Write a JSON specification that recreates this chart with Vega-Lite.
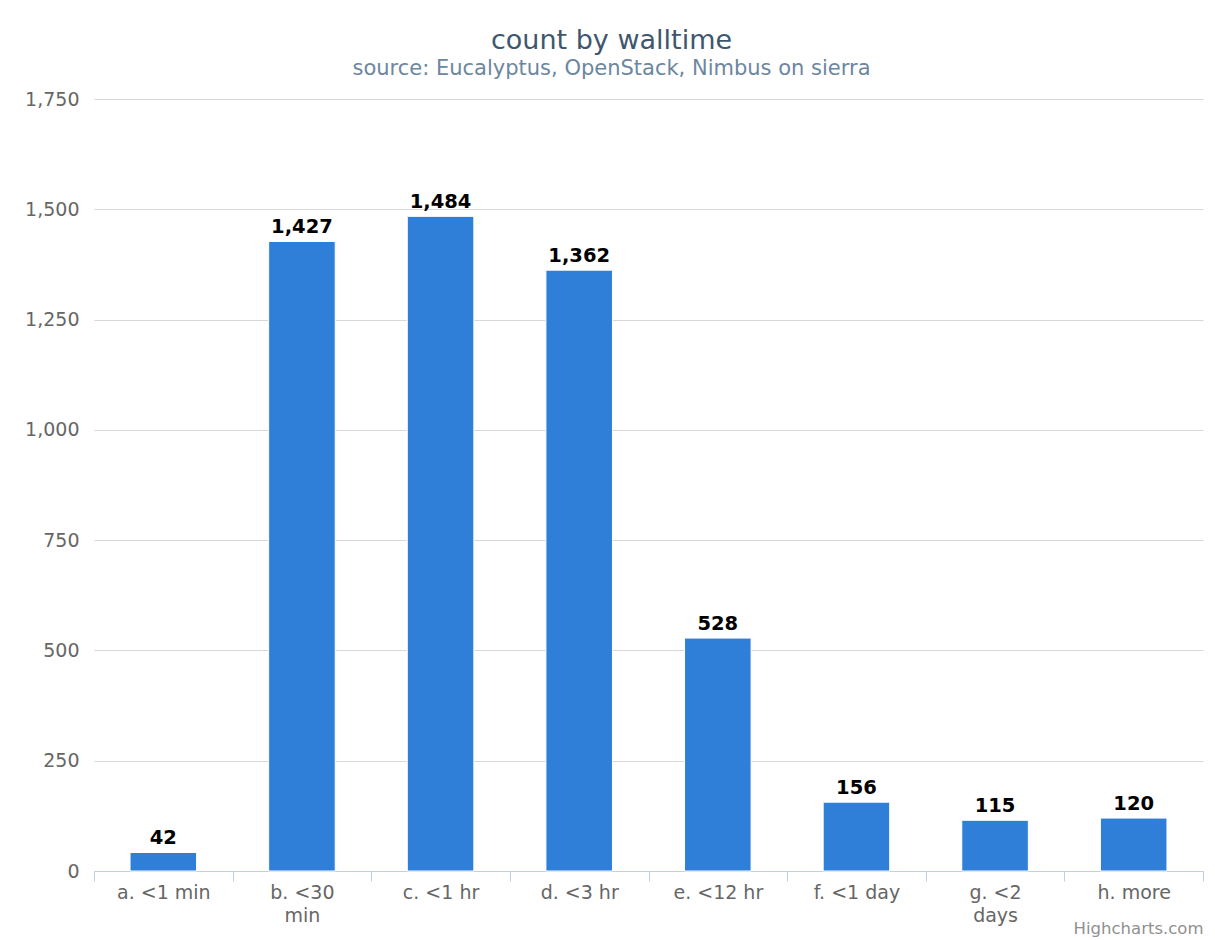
{
  "$schema": "https://vega.github.io/schema/vega-lite/v6.json",
  "autosize": {"type": "none"},
  "padding": {"left": 94, "top": 99, "right": 12, "bottom": 69},
  "width": 1109,
  "height": 772,
  "background": "#ffffff",
  "title": {
    "text": "count by walltime",
    "subtitle": "source: Eucalyptus, OpenStack, Nimbus on sierra",
    "anchor": "middle",
    "frame": "group",
    "dx": -37,
    "offset": 10,
    "font": "DejaVu Sans",
    "fontSize": 27,
    "fontWeight": "normal",
    "color": "#3E576F",
    "subtitleFont": "DejaVu Sans",
    "subtitleFontSize": 21,
    "subtitleColor": "#6D869F",
    "subtitlePadding": 3
  },
  "data": {
    "values": [
      {"walltime": "a. <1 min", "count": 42},
      {"walltime": "b. <30 min", "count": 1427},
      {"walltime": "c. <1 hr", "count": 1484},
      {"walltime": "d. <3 hr", "count": 1362},
      {"walltime": "e. <12 hr", "count": 528},
      {"walltime": "f. <1 day", "count": 156},
      {"walltime": "g. <2 days", "count": 115},
      {"walltime": "h. more", "count": 120}
    ]
  },
  "encoding": {
    "x": {
      "field": "walltime",
      "type": "nominal",
      "sort": null,
      "scale": {"paddingInner": 0, "paddingOuter": 0},
      "axis": {
        "title": "Highcharts.com",
        "titleFont": "DejaVu Sans",
        "titleFontSize": 16.5,
        "titleFontWeight": "normal",
        "titleColor": "#909090",
        "titleAnchor": "end",
        "titleAlign": "right",
        "titleBaseline": "alphabetic",
        "titleX": 1109,
        "titleY": 62,
        "labelAngle": 0,
        "labelFont": "DejaVu Sans",
        "labelFontSize": 19,
        "labelColor": "#666666",
        "labelPadding": 2,
        "labelLineHeight": 23,
        "labelExpr": "datum.value == 'b. <30 min' ? ['b. <30', 'min'] : datum.value == 'g. <2 days' ? ['g. <2', 'days'] : datum.label",
        "domainColor": "#C0D0E0",
        "domainWidth": 1,
        "tickColor": "#C0D0E0",
        "tickSize": 10,
        "tickBand": "extent",
        "grid": false
      }
    },
    "y": {
      "field": "count",
      "type": "quantitative",
      "scale": {"domain": [0, 1750], "nice": false},
      "axis": {
        "title": null,
        "values": [0, 250, 500, 750, 1000, 1250, 1500, 1750],
        "format": ",.0f",
        "labelFont": "DejaVu Sans",
        "labelFontSize": 19,
        "labelColor": "#666666",
        "labelPadding": 15,
        "domain": false,
        "ticks": false,
        "grid": true,
        "gridColor": "#D8D8D8",
        "gridWidth": 1
      }
    }
  },
  "layer": [
    {
      "mark": {"type": "bar", "width": {"band": 0.48}, "color": "#2F7ED8", "stroke": "#FFFFFF", "strokeWidth": 1}
    },
    {
      "mark": {"type": "text", "baseline": "alphabetic", "dy": -8, "font": "DejaVu Sans", "fontSize": 19.5, "fontWeight": "bold", "color": "#000000"},
      "encoding": {"text": {"field": "count", "type": "quantitative", "format": ","}}
    }
  ],
  "config": {"view": {"stroke": null}}
}
